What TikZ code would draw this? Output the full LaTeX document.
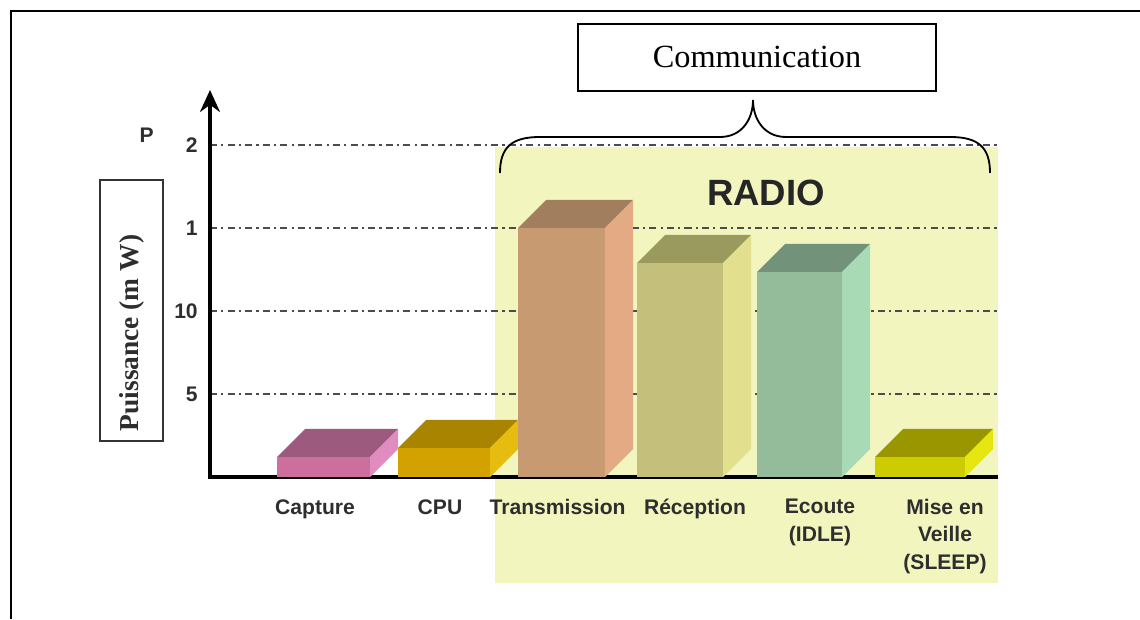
\documentclass[tikz,border=0pt]{standalone}
\usepackage{fontspec}
\setmainfont{Liberation Serif}
\setsansfont{Liberation Sans}
\usepackage{tikz}
\usetikzlibrary{arrows.meta}
\usetikzlibrary{positioning}

\definecolor{radiobg}{HTML}{F2F6BE}
\definecolor{capfront}{HTML}{CC6E9E}
\definecolor{captop}{HTML}{9C5A7E}
\definecolor{capside}{HTML}{E08CBE}
\definecolor{cpufront}{HTML}{D4A200}
\definecolor{cputop}{HTML}{A88400}
\definecolor{cpuside}{HTML}{E6BC10}
\definecolor{txfront}{HTML}{C89A72}
\definecolor{txtop}{HTML}{A07E5E}
\definecolor{txside}{HTML}{E4AA84}
\definecolor{rxfront}{HTML}{C4C07C}
\definecolor{rxtop}{HTML}{9A9A5E}
\definecolor{rxside}{HTML}{E2E08E}
\definecolor{idlefront}{HTML}{94BC9A}
\definecolor{idletop}{HTML}{72927A}
\definecolor{idleside}{HTML}{A8DAB6}
\definecolor{sleepfront}{HTML}{CCCC00}
\definecolor{sleeptop}{HTML}{9A9600}
\definecolor{sleepside}{HTML}{E6E610}
\definecolor{labelgray}{HTML}{2E2E2E}

\tikzset{
  gridline/.style={line width=0.8pt, draw=black!70, dash pattern=on 5pt off 3pt on 1.5pt off 3pt},
  tick/.style={font=\sffamily\bfseries\fontsize{15}{18}\selectfont, text=labelgray, anchor=east, inner sep=0pt},
  barlabel/.style={font=\sffamily\bfseries\fontsize{15}{19.5}\selectfont, text=labelgray, anchor=north, inner sep=0pt, align=center}
}

\begin{document}
\begin{tikzpicture}
\useasboundingbox (0,0) rectangle (28.5,15.475);
\draw[black,line width=1.4pt] (28.5,15.2) -- (0.275,15.2) -- (0.275,0);

\fill[radiobg] (12.375,0.9) rectangle (24.95,11.8);

\draw[gridline] (5.25,11.85) -- (24.95,11.85);
\draw[gridline] (5.25,9.775) -- (24.95,9.775);
\draw[gridline] (5.25,7.7) -- (24.95,7.7);
\draw[gridline] (5.25,5.625) -- (24.95,5.625);

\coordinate (origin) at (5.25,3.55);
\coordinate (ytop) at (5.25,13.225);
\coordinate (xend) at (24.95,3.55);
\draw[black,line width=3pt] ([xshift=-0.05cm]origin) -- (xend);
\draw[black,line width=2.2pt,-{Stealth[length=0.55cm,width=0.5cm]}] (origin) -- (ytop);

\node[tick] (p) at (3.85,12.1) {P};
\node[tick] (t2) at (4.95,11.85) {2};
\node[tick] (t1) at (4.95,9.775) {1};
\node[tick] (t10) at (4.95,7.7) {10};
\node[tick] (t5) at (4.95,5.625) {5};

\draw[black!80,line width=1pt] (2.5,4.45) rectangle (4.075,10.975);
\node[font=\bfseries\fontsize{19.5}{22}\selectfont,rotate=90,text=labelgray] (puiss) at (3.3,7.15) {Puissance (m W)};

% Capture
\fill[capfront] (6.925,3.55) rectangle (9.25,4.05);
\fill[captop] (6.925,4.05) -- (7.625,4.75) -- (9.95,4.75) -- (9.25,4.05) -- cycle;
\fill[capside] (9.25,3.55) -- (9.95,4.25) -- (9.95,4.75) -- (9.25,4.05) -- cycle;
% CPU
\fill[cpufront] (9.95,3.55) rectangle (12.25,4.275);
\fill[cputop] (9.95,4.275) -- (10.65,4.975) -- (12.95,4.975) -- (12.25,4.275) -- cycle;
\fill[cpuside] (12.25,3.55) -- (12.95,4.25) -- (12.95,4.975) -- (12.25,4.275) -- cycle;
% Transmission
\fill[txfront] (12.95,3.55) rectangle (15.125,9.775);
\fill[txtop] (12.95,9.775) -- (13.65,10.475) -- (15.825,10.475) -- (15.125,9.775) -- cycle;
\fill[txside] (15.125,3.55) -- (15.825,4.25) -- (15.825,10.475) -- (15.125,9.775) -- cycle;
% Reception
\fill[rxfront] (15.925,3.55) rectangle (18.075,8.9);
\fill[rxtop] (15.925,8.9) -- (16.625,9.6) -- (18.775,9.6) -- (18.075,8.9) -- cycle;
\fill[rxside] (18.075,3.55) -- (18.775,4.25) -- (18.775,9.6) -- (18.075,8.9) -- cycle;
% Ecoute
\fill[idlefront] (18.925,3.55) rectangle (21.05,8.675);
\fill[idletop] (18.925,8.675) -- (19.625,9.375) -- (21.75,9.375) -- (21.05,8.675) -- cycle;
\fill[idleside] (21.05,3.55) -- (21.75,4.25) -- (21.75,9.375) -- (21.05,8.675) -- cycle;
% Veille
\fill[sleepfront] (21.875,3.55) rectangle (24.125,4.05);
\fill[sleeptop] (21.875,4.05) -- (22.575,4.75) -- (24.825,4.75) -- (24.125,4.05) -- cycle;
\fill[sleepside] (24.125,3.55) -- (24.825,4.25) -- (24.825,4.75) -- (24.125,4.05) -- cycle;

\node[barlabel] (capture) at (7.875,3.0) {Capture};
\node[barlabel] (cpu) at (11.0,3.0) {CPU};
\node[barlabel] (tx) at (13.94,3.0) {Transmission};
\node[barlabel] (rx) at (17.375,3.0) {Réception};
\node[barlabel] (idle) at (20.5,3.0) {Ecoute\\(IDLE)};
\node[barlabel] (sleep) at (23.625,3.0) {Mise en\\Veille\\(SLEEP)};

\node[font=\sffamily\bfseries\fontsize{26}{30}\selectfont,text=black!85] (radio) at (19.15,10.65) {RADIO};

\node[draw=black,line width=1pt,minimum width=8.95cm,minimum height=1.675cm,font=\fontsize{23}{26}\selectfont] (comm) at (18.925,14.04) {Communication};
\coordinate (tip) at (18.825,12.975);
\draw[black,line width=1.3pt] (12.5,11.15) .. controls (12.5,11.8) and (12.8,12.05) .. (13.5,12.05) -- (18.0,12.05) .. controls (18.55,12.05) and (18.825,12.5) .. (tip) .. controls (18.825,12.5) and (19.1,12.05) .. (19.65,12.05) -- (23.75,12.05) .. controls (24.45,12.05) and (24.75,11.8) .. (24.75,11.15);

\end{tikzpicture}
\end{document}
